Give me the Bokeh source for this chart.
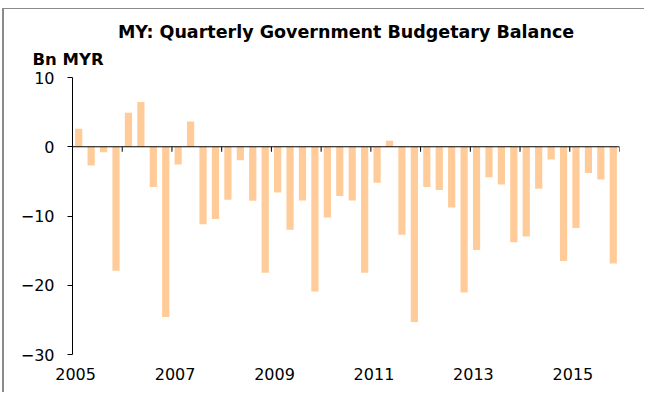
import numpy as np
from bokeh.plotting import figure
from bokeh.models import Range1d, FixedTicker, Title, ColumnDataSource, Span
from bokeh.embed import file_html
from bokeh.resources import INLINE

# ---- data ----
years = list(range(2005, 2016))
quarters = ["Q1", "Q2", "Q3", "Q4"]
periods = [f"{y}{q}" for y in years for q in quarters]
balance = [2.6, -2.7, -0.8, -17.9,
           4.9, 6.45, -5.8, -24.6,
           -2.55, 3.65, -11.2, -10.45,
           -7.65, -1.95, -7.8, -18.2,
           -6.6, -12.0, -7.75, -20.9,
           -10.2, -7.1, -7.75, -18.2,
           -5.2, 0.87, -12.7, -25.3,
           -5.8, -6.26, -8.77, -21.05,
           -14.9, -4.4, -5.45, -13.8,
           -12.95, -6.07, -1.83, -16.5,
           -11.75, -3.8, -4.72, -16.86]
y_ticks = [-30, -20, -10, 0, 10]
label_years = [2005, 2007, 2009, 2011, 2013, 2015]
title_text = "MY: Quarterly Government Budgetary Balance"
unit_text = "Bn MYR"

FONT = "DejaVu Sans"
n = len(balance)
pos = np.arange(n) + 0.5
src = ColumnDataSource(dict(period=periods, x=pos, value=balance))

p = figure(width=642, height=384, x_range=Range1d(0, n), y_range=Range1d(-30, 10),
           output_backend="svg", toolbar_location=None,
           min_border_left=68, min_border_right=27, min_border_top=68, min_border_bottom=39,
           title=title_text)
p.styles = {"margin-left": "2px", "margin-top": "8px",
            "border-left": "2px solid #8a8a8a", "border-top": "1px solid #8a8a8a"}
p.background_fill_color = "white"
p.border_fill_color = "white"
p.outline_line_color = None
p.grid.visible = False

p.vbar(x="x", top="value", bottom=0, width=0.58, source=src,
       fill_color="#ffcc99", line_color=None)

# zero line with year-boundary ticks hanging below it
p.add_layout(Span(location=0, dimension="width", line_color="black", line_width=1))
boundaries = [(y - years[0]) * 4 for y in years + [years[-1] + 1]]
tick_len = 0.72
p.segment(x0=boundaries, y0=[0] * len(boundaries), x1=boundaries,
          y1=[-tick_len] * len(boundaries), line_color="black", line_width=1)

# titles
p.title.align = "center"
p.title.text_font = FONT
p.title.text_font_size = "17.5px"
p.title.text_font_style = "bold"
p.title.text_color = "black"
p.title.standoff = -4

unit = Title(text=unit_text, align="left", offset=-40, text_font=FONT,
             text_font_size="16.5px", text_font_style="bold", text_color="black",
             standoff=17)
p.add_layout(unit, "above")

# y axis
ya = p.yaxis[0]
ya.ticker = FixedTicker(ticks=y_ticks)
ya.major_tick_out = 5
ya.major_tick_in = 0
ya.minor_tick_out = 0
ya.minor_tick_in = 0
ya.axis_line_color = "black"
ya.major_tick_line_color = "black"
ya.major_label_text_font = FONT
ya.major_label_text_font_size = "16px"
ya.major_label_text_color = "black"
ya.major_label_standoff = 13

# x axis labels (bottom)
xa = p.xaxis[0]
label_pos = [(y - years[0]) * 4 + 0.25 for y in label_years]
xa.ticker = FixedTicker(ticks=label_pos)
xa.major_label_overrides = {t: str(y) for t, y in zip(label_pos, label_years)}
xa.major_tick_out = 0
xa.major_tick_in = 0
xa.minor_tick_out = 0
xa.minor_tick_in = 0
xa.axis_line_color = None
xa.major_label_text_font = FONT
xa.major_label_text_font_size = "16px"
xa.major_label_text_color = "black"
xa.major_label_standoff = 13

open("out.html", "w").write(file_html(p, INLINE))
